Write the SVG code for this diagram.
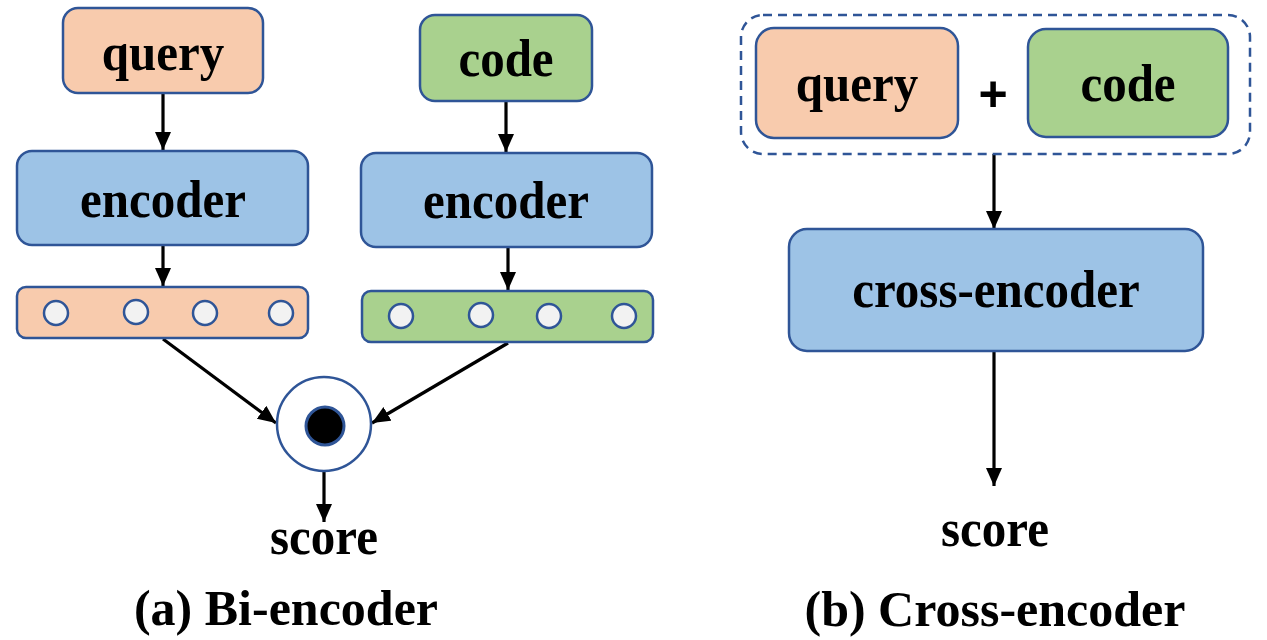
<svg xmlns="http://www.w3.org/2000/svg" width="1267" height="640" viewBox="0 0 1267 640">
<style>
.box{stroke:#2F5597;stroke-width:2.5}
.q{fill:#F8CBAD}
.c{fill:#A9D18E}
.e{fill:#9DC3E6}
.dot{fill:#F2F2F2;stroke:#2F5597;stroke-width:2.5}
.t{font-family:"Liberation Serif","Times New Roman",serif;font-weight:bold;font-size:49px;fill:#000;text-anchor:middle}
.cap{font-size:50px}
.arr{stroke:#000;stroke-width:3.2;fill:none;marker-end:url(#ah)}
</style>
<defs>
<marker id="ah" markerUnits="userSpaceOnUse" markerWidth="20" markerHeight="18" refX="18" refY="8" orient="auto">
<path d="M0,0 L18,8 L0,16 z" fill="#000"/>
</marker>
</defs>
<rect width="1267" height="640" fill="#fff"/>

<g id="connectors">
<line class="arr" x1="163" y1="93" x2="163" y2="150"/>
<line class="arr" x1="506" y1="101" x2="506" y2="152"/>
<line class="arr" x1="163" y1="245" x2="163" y2="286"/>
<line class="arr" x1="508" y1="247" x2="508" y2="290"/>
<line class="arr" x1="163" y1="339" x2="276" y2="423"/>
<line class="arr" x1="508" y1="343" x2="372" y2="423"/>
<line class="arr" x1="324" y1="470" x2="324" y2="522"/>
<line class="arr" x1="994" y1="154" x2="994" y2="229"/>
<line class="arr" x1="994" y1="351" x2="994" y2="486"/>
</g>

<g id="query-a">
<rect class="box q" x="63" y="8" width="200" height="85" rx="15"/>
<text class="t" transform="translate(163,70) scale(1,1.08)">query</text>
</g>
<g id="code-a">
<rect class="box c" x="420" y="15" width="172" height="86" rx="15"/>
<text class="t" transform="translate(506,76) scale(1,1.08)">code</text>
</g>
<g id="encoder-q">
<rect class="box e" x="17" y="151" width="291" height="94" rx="15"/>
<text class="t" transform="translate(163,217) scale(1,1.08)">encoder</text>
</g>
<g id="encoder-c">
<rect class="box e" x="361" y="153" width="291" height="94" rx="15"/>
<text class="t" transform="translate(506,218) scale(1,1.08)">encoder</text>
</g>
<g id="vec-q">
<rect class="box q" x="17" y="287" width="291" height="51" rx="9"/>
<circle class="dot" cx="56" cy="313" r="12"/>
<circle class="dot" cx="136" cy="312" r="12"/>
<circle class="dot" cx="205" cy="313" r="12"/>
<circle class="dot" cx="281" cy="313" r="12"/>
</g>
<g id="vec-c">
<rect class="box c" x="362" y="291" width="291" height="51" rx="9"/>
<circle class="dot" cx="401" cy="316" r="12"/>
<circle class="dot" cx="481" cy="315" r="12"/>
<circle class="dot" cx="549" cy="316" r="12"/>
<circle class="dot" cx="624" cy="316" r="12"/>
</g>
<g id="dot-product">
<circle cx="324" cy="424" r="47" fill="#fff" stroke="#2F5597" stroke-width="2.5"/>
<circle cx="325" cy="426" r="19" fill="#000" stroke="#2F5597" stroke-width="3"/>
</g>
<g id="score-a">
<text class="t" transform="translate(324,554) scale(1,1.08)">score</text>
</g>
<g id="caption-a">
<text class="t cap" x="286" y="625">(a) Bi-encoder</text>
</g>

<g id="input-pair">
<rect x="741" y="15" width="509" height="139" rx="22" fill="none" stroke="#2F5597" stroke-width="2.5" stroke-dasharray="9,6"/>
</g>
<g id="query-b">
<rect class="box q" x="756" y="28" width="202" height="110" rx="18"/>
<text class="t" transform="translate(857,101) scale(1,1.08)">query</text>
</g>
<g id="plus">
<text x="993" y="111" style="font-family:'Liberation Sans',Arial,sans-serif;font-weight:bold;font-size:50px;text-anchor:middle;fill:#000">+</text>
</g>
<g id="code-b">
<rect class="box c" x="1028" y="29" width="200" height="108" rx="18"/>
<text class="t" transform="translate(1128,101) scale(1,1.08)">code</text>
</g>
<g id="cross-encoder">
<rect class="box e" x="789" y="229" width="414" height="122" rx="18"/>
<text class="t" transform="translate(996,307) scale(1,1.08)">cross-encoder</text>
</g>
<g id="score-b">
<text class="t" transform="translate(995,546) scale(1,1.08)">score</text>
</g>
<g id="caption-b">
<text class="t cap" x="995" y="626">(b) Cross-encoder</text>
</g>
</svg>
